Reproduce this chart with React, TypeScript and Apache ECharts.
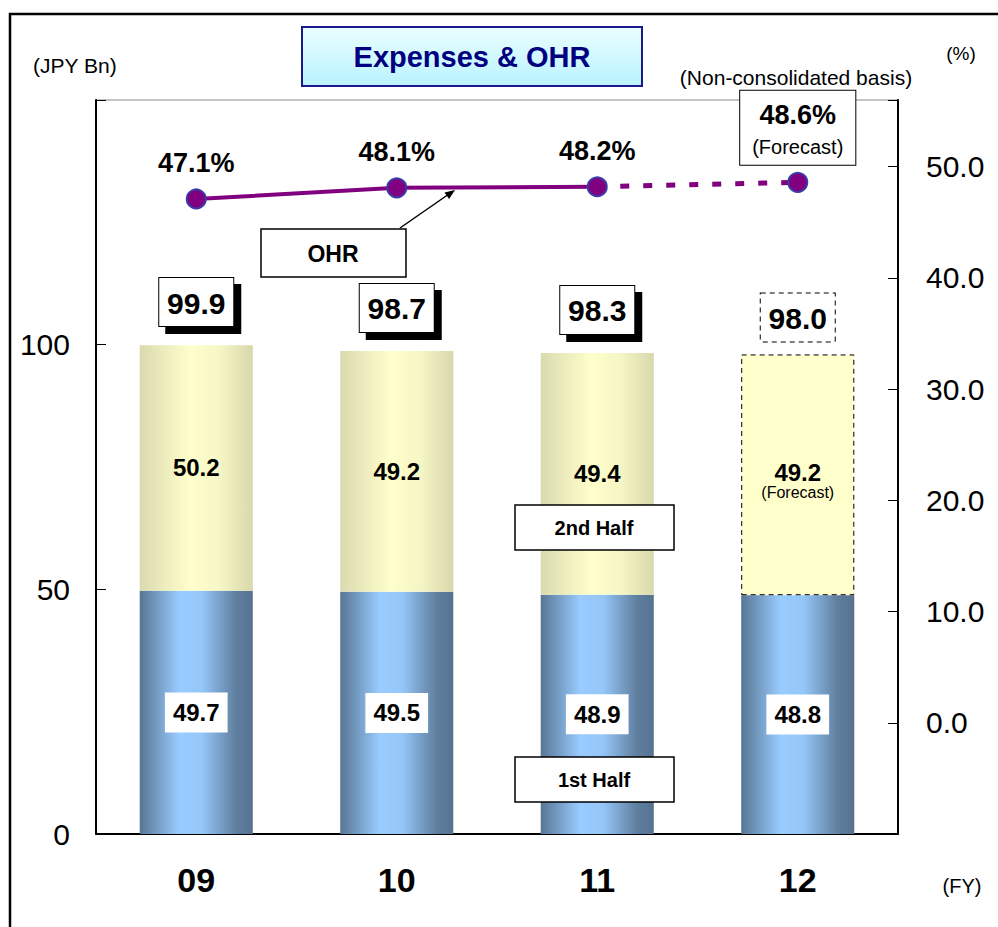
import React, { useEffect, useRef } from "react";
import * as echarts from "echarts";

const categories = ["09", "10", "11", "12"];
const firstHalf = [49.7, 49.5, 48.9, 48.8];
const secondHalf = [50.2, 49.2, 49.4, 49.2];
const totals = [99.9, 98.7, 98.3, 98.0];
const ohrActual = [47.1, 48.1, 48.2];
const ohrForecast = 48.6;
const leftTicks = [0, 50, 100];
const rightTicks = [0, 10, 20, 30, 40, 50];

const FONT = "Liberation Sans";

export default function App() {
  const ref = useRef<HTMLDivElement>(null);

  useEffect(() => {
    if (!ref.current) return;
    const chart = echarts.init(ref.current, null, { renderer: "svg" });

    const blueGrad = new echarts.graphic.LinearGradient(0, 0, 1, 0, [
      { offset: 0, color: "#587694" },
      { offset: 0.35, color: "#99ccff" },
      { offset: 0.55, color: "#95c6f8" },
      { offset: 0.85, color: "#5f7f9f" },
      { offset: 1, color: "#567290" },
    ]);
    const yellowGrad = new echarts.graphic.LinearGradient(0, 0, 1, 0, [
      { offset: 0, color: "#dadab0" },
      { offset: 0.45, color: "#ffffcc" },
      { offset: 0.7, color: "#f6f6c6" },
      { offset: 1, color: "#d8d8ac" },
    ]);

    const lastIdx = categories.length - 1;

    const firstData = firstHalf.map((v) => v);
    const secondData = secondHalf.map((v, i) =>
      i === lastIdx
        ? {
            value: v,
            itemStyle: {
              color: "#ffffcc",
              borderColor: "#000",
              borderWidth: 1,
              borderType: [5, 4],
            },
            label: {
              formatter: "{a|" + v.toFixed(1) + "}\n{b|(Forecast)}",
              offset: [0, 6],
            },
          }
        : v
    );
    const totalLabelBase = {
      show: true,
      position: "top",
      distance: 19,
      fontSize: 30,
      fontWeight: "bold",
      fontFamily: FONT,
      borderWidth: 1,
      width: 58,
      height: 31,
      align: "center",
      padding: [9, 8, 8, 8],
    };
    const totalData = totals.map((v, i) =>
      i === lastIdx
        ? {
            value: v,
            label: { borderType: [5, 4], distance: 13 },
          }
        : v
    );
    const totalShadowData = totals.map((v, i) =>
      i === lastIdx ? { value: v, label: { show: false } } : v
    );
    const solidData: any[] = categories.map((_, i) =>
      i < ohrActual.length ? ohrActual[i] : "-"
    );
    const dashData: any[] = categories.map((_, i) => {
      if (i === ohrActual.length - 1)
        return { value: ohrActual[i], symbol: "none", label: { show: false } };
      if (i === lastIdx) return ohrForecast;
      return "-";
    });

    const option: any = {
      animation: false,
      backgroundColor: "#fff",
      textStyle: { fontFamily: FONT },
      grid: {
        left: 96,
        top: 100,
        right: 100,
        bottom: 93,
        show: true,
        borderColor: "#8a8a8a",
        borderWidth: 1,
        containLabel: false,
      },
      xAxis: {
        type: "category",
        data: categories,
        axisLine: { lineStyle: { color: "#000", width: 2 } },
        axisTick: { inside: true, length: 10, lineStyle: { color: "#000" } },
        axisLabel: {
          fontSize: 34,
          fontWeight: "bold",
          color: "#000",
          margin: 29,
          fontFamily: FONT,
        },
      },
      yAxis: [
        {
          type: "value",
          min: 0,
          max: 150,
          interval: 50,
          axisLine: { show: true, lineStyle: { color: "#000", width: 2 } },
          axisTick: { show: true, inside: true, length: 10, lineStyle: { color: "#000" } },
          splitLine: { show: false },
          axisLabel: {
            fontSize: 30,
            color: "#000",
            margin: 26,
            fontFamily: FONT,
            formatter: (v: number) => (leftTicks.includes(v) ? String(v) : ""),
          },
        },
        {
          type: "value",
          min: -10,
          max: 56,
          interval: 10,
          position: "right",
          axisLine: { show: true, lineStyle: { color: "#000", width: 2 } },
          axisTick: { show: true, inside: true, length: 10, lineStyle: { color: "#000" } },
          splitLine: { show: false },
          axisLabel: {
            fontSize: 30,
            color: "#000",
            margin: 28,
            fontFamily: FONT,
            formatter: (v: number) =>
              rightTicks.includes(Math.round(v * 10) / 10) ? v.toFixed(1) : "",
          },
        },
      ],
      series: [
        {
          name: "1st Half",
          type: "bar",
          stack: "exp",
          barWidth: "56.4%",
          data: firstData,
          itemStyle: { color: blueGrad },
          label: {
            show: true,
            position: "inside",
            backgroundColor: "#fff",
            padding: [8, 8],
            fontSize: 24,
            fontWeight: "bold",
            color: "#000",
            fontFamily: FONT,
            formatter: (p: any) => Number(p.value).toFixed(1),
          },
          z: 2,
        },
        {
          name: "2nd Half",
          type: "bar",
          stack: "exp",
          barWidth: "56.4%",
          data: secondData,
          itemStyle: { color: yellowGrad },
          label: {
            show: true,
            position: "inside",
            fontSize: 24,
            fontWeight: "bold",
            color: "#000",
            fontFamily: FONT,
            formatter: (p: any) => Number(p.value).toFixed(1),
            rich: {
              a: { fontSize: 24, fontWeight: "bold", color: "#000", lineHeight: 24, fontFamily: FONT },
              b: { fontSize: 16, fontWeight: "normal", color: "#000", lineHeight: 16, fontFamily: FONT },
            },
          },
          z: 2,
        },
        {
          name: "Total shadow",
          type: "scatter",
          data: totalShadowData,
          symbol: "circle",
          symbolSize: 0.1,
          itemStyle: { color: "rgba(0,0,0,0)", opacity: 1 },
          silent: true,
          label: {
            ...totalLabelBase,
            formatter: " ",
            color: "rgba(0,0,0,0)",
            backgroundColor: "#000",
            borderColor: "#000",
            offset: [7, 7],
          },
          z: 4,
        },
        {
          name: "Total",
          type: "scatter",
          data: totalData,
          symbol: "circle",
          symbolSize: 0.1,
          itemStyle: { color: "rgba(0,0,0,0)", opacity: 1 },
          silent: true,
          label: {
            ...totalLabelBase,
            formatter: (p: any) => Number(p.value).toFixed(1),
            color: "#000",
            backgroundColor: "#fff",
            borderColor: "#000",
          },
          z: 5,
        },
        {
          name: "OHR",
          type: "line",
          yAxisIndex: 1,
          data: solidData,
          symbol: "circle",
          symbolSize: 19,
          lineStyle: { color: "#800080", width: 4 },
          itemStyle: { color: "#800080", borderColor: "#3b3ba8", borderWidth: 2 },
          label: {
            show: true,
            position: "top",
            distance: 12,
            fontSize: 27,
            fontWeight: "bold",
            color: "#000",
            fontFamily: FONT,
            formatter: (p: any) => Number(p.value).toFixed(1) + "%",
          },
          z: 6,
        },
        {
          name: "OHR Forecast",
          type: "line",
          yAxisIndex: 1,
          data: dashData,
          symbol: "circle",
          symbolSize: 19,
          lineStyle: { color: "#800080", width: 5, type: [9, 14] },
          itemStyle: { color: "#800080", borderColor: "#3b3ba8", borderWidth: 2 },
          label: {
            show: true,
            position: "top",
            distance: 7,
            backgroundColor: "#fff",
            borderColor: "#000",
            borderWidth: 1,
            padding: [6, 12, 4, 12],
            formatter: (p: any) =>
              "{a|" + Number(p.value).toFixed(1) + "%}\n{b|(Forecast)}",
            rich: {
              a: { fontSize: 27, fontWeight: "bold", color: "#000", lineHeight: 36, fontFamily: FONT },
              b: { fontSize: 20, fontWeight: "normal", color: "#000", lineHeight: 28, fontFamily: FONT },
            },
          },
          z: 6,
        },
      ],
      graphic: [
        {
          type: "rect",
          shape: { x: 10, y: 14, width: 1000, height: 1000 },
          style: { fill: "none", stroke: "#000", lineWidth: 2.5 },
          z: 0,
          silent: true,
        },
        {
          type: "rect",
          shape: { x: 302, y: 27, width: 340, height: 59 },
          style: {
            fill: new echarts.graphic.LinearGradient(0, 0, 0, 1, [
              { offset: 0, color: "#eaffff" },
              { offset: 1, color: "#b9f3ff" },
            ]),
            stroke: "#1a1a8c",
            lineWidth: 2,
          },
          z: 10,
        },
        {
          type: "text",
          x: 472,
          y: 57,
          style: {
            text: "Expenses & OHR",
            fontSize: 29,
            fontWeight: "bold",
            fill: "#000080",
            fontFamily: FONT,
            align: "center",
            verticalAlign: "middle",
          },
          z: 11,
        },
        {
          type: "text",
          x: 33,
          y: 65,
          style: {
            text: "(JPY Bn)",
            fontSize: 21,
            fill: "#000",
            fontFamily: FONT,
            align: "left",
            verticalAlign: "middle",
          },
          z: 10,
        },
        {
          type: "text",
          x: 961,
          y: 53,
          style: {
            text: "(%)",
            fontSize: 19,
            fill: "#000",
            fontFamily: FONT,
            align: "center",
            verticalAlign: "middle",
          },
          z: 10,
        },
        {
          type: "text",
          x: 796,
          y: 77,
          style: {
            text: "(Non-consolidated basis)",
            fontSize: 21,
            fill: "#000",
            fontFamily: FONT,
            align: "center",
            verticalAlign: "middle",
          },
          z: 10,
        },
        {
          type: "text",
          x: 962,
          y: 886,
          style: {
            text: "(FY)",
            fontSize: 20,
            fill: "#000",
            fontFamily: FONT,
            align: "center",
            verticalAlign: "middle",
          },
          z: 10,
        },
        // OHR callout
        {
          type: "rect",
          shape: { x: 261, y: 229, width: 145, height: 48 },
          style: { fill: "#fff", stroke: "#000", lineWidth: 1.5 },
          z: 20,
        },
        {
          type: "text",
          x: 333,
          y: 254,
          style: {
            text: "OHR",
            fontSize: 23,
            fontWeight: "bold",
            fill: "#000",
            fontFamily: FONT,
            align: "center",
            verticalAlign: "middle",
          },
          z: 21,
        },
        {
          type: "line",
          shape: { x1: 400, y1: 228, x2: 449, y2: 194 },
          style: { stroke: "#000", lineWidth: 1.5 },
          z: 20,
        },
        {
          type: "polygon",
          shape: { points: [[455, 190], [449.1, 199], [444.5, 192.4]] },
          style: { fill: "#000" },
          z: 20,
        },
        // 2nd Half callout
        {
          type: "rect",
          shape: { x: 515, y: 505, width: 159, height: 45 },
          style: { fill: "#fff", stroke: "#000", lineWidth: 1.5 },
          z: 20,
        },
        {
          type: "text",
          x: 594,
          y: 528,
          style: {
            text: "2nd Half",
            fontSize: 20,
            fontWeight: "bold",
            fill: "#000",
            fontFamily: FONT,
            align: "center",
            verticalAlign: "middle",
          },
          z: 21,
        },
        // 1st Half callout
        {
          type: "rect",
          shape: { x: 515, y: 757, width: 159, height: 45 },
          style: { fill: "#fff", stroke: "#000", lineWidth: 1.5 },
          z: 20,
        },
        {
          type: "text",
          x: 594,
          y: 780,
          style: {
            text: "1st Half",
            fontSize: 20,
            fontWeight: "bold",
            fill: "#000",
            fontFamily: FONT,
            align: "center",
            verticalAlign: "middle",
          },
          z: 21,
        },
      ],
    };

    chart.setOption(option);
    return () => chart.dispose();
  }, []);

  return (
    <div
      ref={ref}
      style={{ position: "absolute", left: 0, top: 0, width: 998, height: 927 }}
    />
  );
}
